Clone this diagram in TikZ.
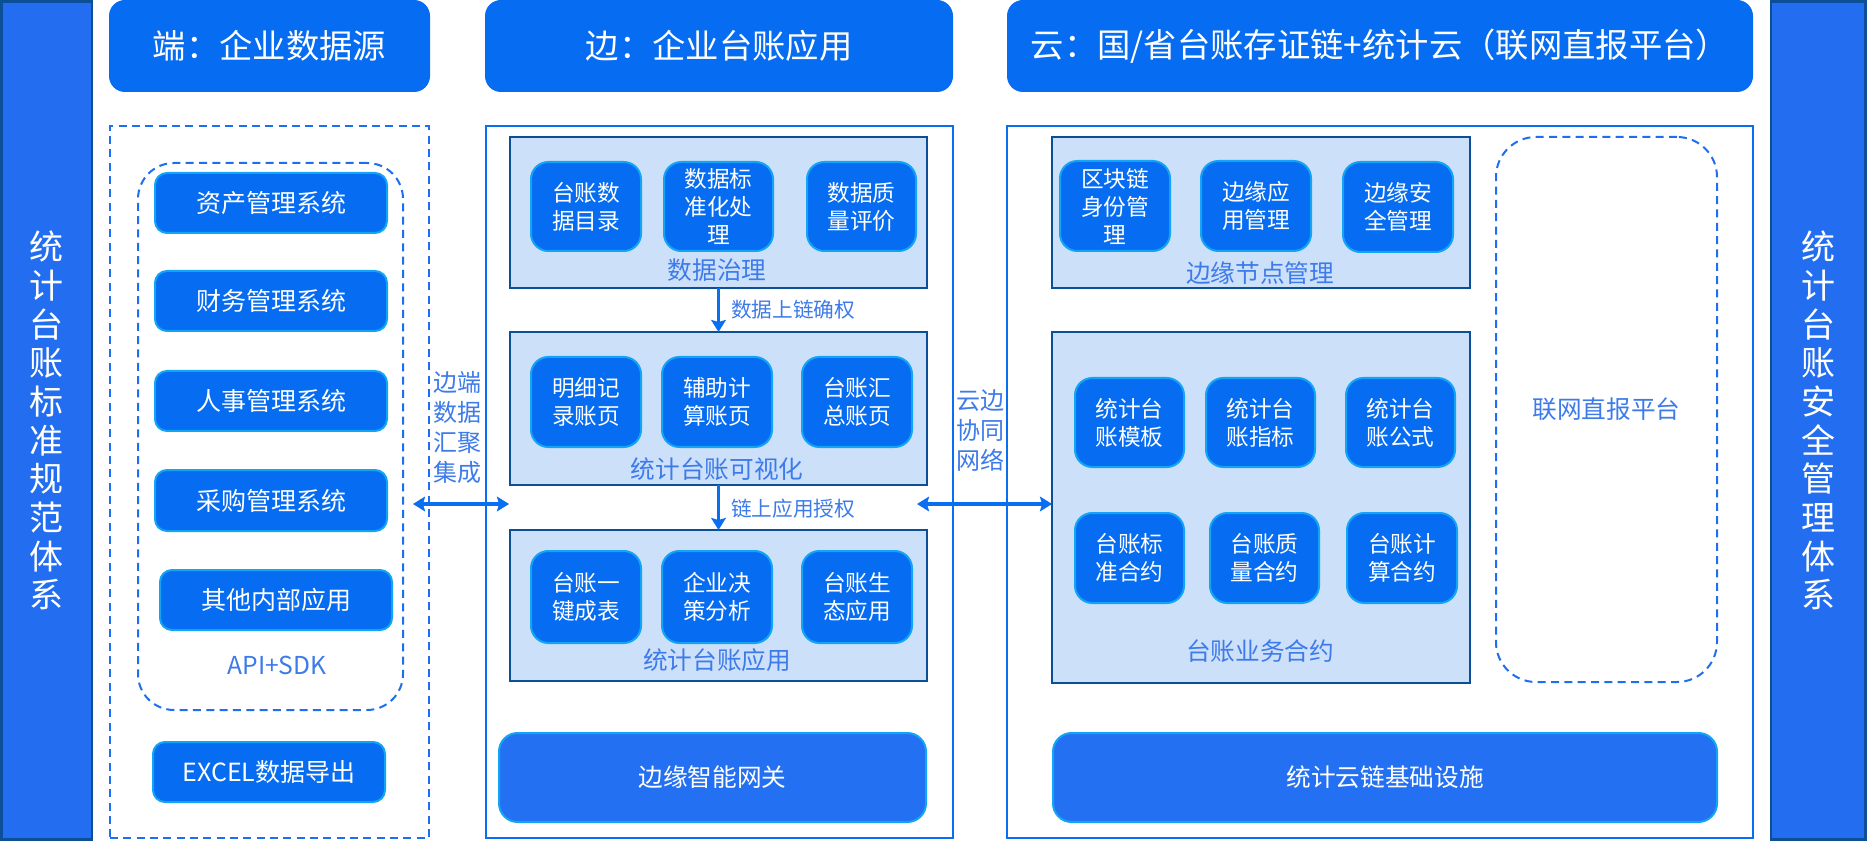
\documentclass[tikz,border=0pt]{standalone}
\usepackage{fontspec}
\setmainfont{Noto Sans CJK SC}
\usetikzlibrary{fit,arrows.meta}
\definecolor{hdr}{HTML}{066CF2}
\definecolor{sidec}{HTML}{236EF0}
\definecolor{navy}{HTML}{0C4F96}
\definecolor{bigc}{HTML}{2470F2}
\definecolor{cyanb}{HTML}{12A5F5}
\definecolor{grpf}{HTML}{CDE0FA}
\definecolor{lblc}{HTML}{3D7BEA}
\definecolor{dashc}{HTML}{1E6FF0}
\definecolor{outc}{HTML}{0A6EF0}
\newcommand\mkbox[5]{\node[#1, fit={(#3) (#4)}] (#2) {};
  \node[#1, draw=none, fill=none] (#2t) at (#2.center) {#5};}
\begin{document}
\begin{tikzpicture}[x=0.75pt,y=-0.75pt,
  every node/.style={inner sep=0pt, outer sep=0pt},
  sidebar/.style={fill=sidec, draw=navy, line width=2pt},
  sidetext/.style={text=white, align=center, font=\fontsize{25.5}{29}\selectfont},
  header/.style={fill=hdr, rounded corners=12pt, text=white, font=\fontsize{25}{30}\selectfont},
  outerbox/.style={draw=outc, line width=1.5pt},
  dashbox/.style={draw=dashc, line width=1.5pt, dash pattern=on 6pt off 4pt},
  grp/.style={fill=grpf, draw=navy, line width=1.6pt},
  sbox/.style={fill=hdr, draw=cyanb, line width=1.5pt, rounded corners=13pt, text=white, align=center, font=\fontsize{17}{21}\selectfont},
  lbox/.style={fill=hdr, draw=cyanb, line width=1.5pt, rounded corners=9pt, text=white, font=\fontsize{18.75}{22}\selectfont},
  bigbox/.style={fill=bigc, draw=cyanb, line width=1.5pt, rounded corners=14pt, text=white, font=\fontsize{18.5}{22}\selectfont},
  glabel/.style={text=lblc, font=\fontsize{18.5}{22}\selectfont},
  alabel/.style={text=lblc, font=\fontsize{15.5}{19}\selectfont, anchor=west},
  vlabel/.style={text=lblc, align=center, font=\fontsize{18}{22.5}\selectfont},
  arr/.style={draw=outc, line width=2.4pt, -{Stealth[length=9pt, width=11pt, inset=1.5pt]}},
  darr/.style={draw=outc, line width=2.4pt, {Stealth[length=9pt, width=11pt, inset=1.5pt]}-{Stealth[length=9pt, width=11pt, inset=1.5pt]}}
]
\useasboundingbox (0,0) rectangle (1867,841);
\fill[white] (0,0) rectangle (1867,841);

% side bars
\mkbox{sidebar}{lbar}{1.5,1.5}{92,839.5}{}
\node[sidetext] (ltext) at (lbar.center) {统\\计\\台\\账\\标\\准\\规\\范\\体\\系};
\mkbox{sidebar}{rbar}{1771,1.5}{1865.5,839.5}{}
\node[sidetext] (rtext) at (rbar.center) {统\\计\\台\\账\\安\\全\\管\\理\\体\\系};

% headers
\mkbox{header}{h1}{109,0}{430,92}{端：企业数据源}
\mkbox{header}{h2}{485,0}{953,92}{边：企业台账应用}
\mkbox{header}{h3}{1007,0}{1753,92}{云：国/省台账存证链+统计云（联网直报平台）}

% column 1
\mkbox{dashbox}{d1}{110,126}{429,838}{}
\mkbox{dashbox, rounded corners=27pt}{d1in}{138,163}{403,710}{}
\mkbox{lbox}{s1}{155,173}{387,233}{资产管理系统}
\mkbox{lbox}{s2}{155,271}{387,331}{财务管理系统}
\mkbox{lbox}{s3}{155,371}{387,431}{人事管理系统}
\mkbox{lbox}{s4}{155,470}{387,531}{采购管理系统}
\mkbox{lbox}{s5}{160,570}{392,630}{其他内部应用}
\node[glabel] (api) at (277,665) {API+SDK};
\mkbox{lbox}{s6}{153,742}{385,802}{EXCEL数据导出}

% column 2
\mkbox{outerbox}{o2}{486,126}{953,838}{}
\mkbox{grp}{zl}{510,137}{927,288}{}
\mkbox{sbox}{a1}{531,162}{641,251}{台账数\\据目录}
\mkbox{sbox}{a2}{664,162}{773,251}{数据标\\准化处\\理}
\mkbox{sbox}{a3}{807,162}{916,251}{数据质\\量评价}
\node[glabel] (zll) at (717,270) {数据治理};

\mkbox{grp}{ksh}{510,332}{927,485}{}
\mkbox{sbox}{b1}{531,357}{641,447}{明细记\\录账页}
\mkbox{sbox}{b2}{662,357}{772,447}{辅助计\\算账页}
\mkbox{sbox}{b3}{802,357}{912,447}{台账汇\\总账页}
\node[glabel] (kshl) at (717,469) {统计台账可视化};

\mkbox{grp}{yy}{510,530}{927,681}{}
\mkbox{sbox}{c1}{531,551}{641,643}{台账一\\键成表}
\mkbox{sbox}{c2}{662,551}{772,643}{企业决\\策分析}
\mkbox{sbox}{c3}{802,551}{912,643}{台账生\\态应用}
\node[glabel] (yyl) at (717,660) {统计台账应用};

\mkbox{bigbox}{wg}{499,733}{926,822}{边缘智能网关}

\draw[arr] (zl.south) -- (ksh.north);
\node[alabel] (al1) at (731,310) {数据上链确权};
\draw[arr] (ksh.south) -- (yy.north);
\node[alabel] (al2) at (731,509) {链上应用授权};

% column 3
\mkbox{outerbox}{o3}{1007,126}{1753,838}{}
\mkbox{grp}{bj}{1052,137}{1470,288}{}
\mkbox{sbox}{e1}{1060,161}{1170,251}{区块链\\身份管\\理}
\mkbox{sbox}{e2}{1201,161}{1311,251}{边缘应\\用管理}
\mkbox{sbox}{e3}{1343,162}{1453,252}{边缘安\\全管理}
\node[glabel] (bjl) at (1260,273) {边缘节点管理};

\mkbox{grp}{yw}{1052,332}{1470,683}{}
\mkbox{sbox}{f1}{1075,378}{1184,467}{统计台\\账模板}
\mkbox{sbox}{f2}{1206,378}{1315,467}{统计台\\账指标}
\mkbox{sbox}{f3}{1346,378}{1455,467}{统计台\\账公式}
\mkbox{sbox}{g1}{1075,513}{1184,603}{台账标\\准合约}
\mkbox{sbox}{g2}{1210,513}{1319,603}{台账质\\量合约}
\mkbox{sbox}{g3}{1347,513}{1457,603}{台账计\\算合约}
\node[glabel] (ywl) at (1260,651) {台账业务合约};

\mkbox{dashbox, rounded corners=30pt}{lw}{1496,137}{1717,682}{}
\node[glabel] (lwl) at (lw.center) {联网直报平台};

\mkbox{bigbox}{jc}{1053,733}{1717,822}{统计云链基础设施}

% cross-column connectors
\coordinate (la) at (413,504);
\coordinate (lb) at (509,504);
\draw[darr] (la) -- (lb);
\node[vlabel] (ll) at (457,427) {边端\\数据\\汇聚\\集成};
\coordinate (ra) at (917,504);
\coordinate (rb) at (1052,504);
\draw[darr] (ra) -- (rb);
\node[vlabel] (rl) at (980,431) {云边\\协同\\网络};
\end{tikzpicture}
\end{document}
